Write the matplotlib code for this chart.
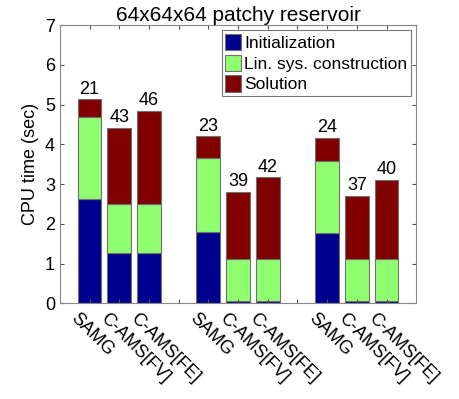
import numpy as np
import matplotlib
matplotlib.use("Agg")
import matplotlib.pyplot as plt

plt.rcParams['font.family'] = ['Liberation Sans', 'DejaVu Sans']

# bar slots 1..11, slots 4 and 8 are empty gaps
labels = ['SAMG', 'C-AMS[FV]', 'C-AMS[FE]', '',
          'SAMG', 'C-AMS[FV]', 'C-AMS[FE]', '',
          'SAMG', 'C-AMS[FV]', 'C-AMS[FE]']
init = [2.63, 1.27, 1.27, 0, 1.80, 0.06, 0.06, 0, 1.77, 0.06, 0.06]
linsys = [2.05, 1.22, 1.22, 0, 1.86, 1.05, 1.05, 0, 1.82, 1.05, 1.05]
solution = [0.45, 1.93, 2.35, 0, 0.54, 1.69, 2.06, 0, 0.57, 1.60, 1.99]
iters = [21, 43, 46, None, 23, 39, 42, None, 24, 37, 40]

fig, ax = plt.subplots(figsize=(4.6, 3.99), dpi=100)
fig.subplots_adjust(left=0.13, right=0.905, top=0.937, bottom=0.24)

x = np.arange(1, len(labels) + 1)
init = np.array(init)
linsys = np.array(linsys)
solution = np.array(solution)
mask = np.array([it is not None for it in iters])

kw = dict(width=0.8, edgecolor='#707070', linewidth=0.8)
ax.bar(x[mask], init[mask], color='#00008f', label='Initialization', **kw)
ax.bar(x[mask], linsys[mask], bottom=init[mask], color='#8fff70',
       label='Lin. sys. construction', **kw)
ax.bar(x[mask], solution[mask], bottom=(init + linsys)[mask], color='#800000',
       label='Solution', **kw)

tops = init + linsys + solution
for xi, top, it in zip(x, tops, iters):
    if it is None:
        continue
    ax.text(xi, top + 0.04, str(it), ha='center', va='bottom', fontsize=13)

ax.set_xlim(0, 12)
ax.set_ylim(0, 7)
ax.set_xticks(x)
ax.set_xticklabels([])
# rotated labels, anchored a bit left of each bar centre
for xi, lab in zip(x, labels):
    ax.annotate(lab, xy=(xi, 0), xycoords=('data', 'axes fraction'),
                xytext=(-7, -5), textcoords='offset points',
                rotation=-45, rotation_mode='anchor', ha='left', va='top',
                fontsize=13)
ax.set_yticks(range(0, 8))
ax.tick_params(axis='y', labelsize=13)
ax.tick_params(direction='in', top=True, right=True, length=3, color='#555555')
for s in ax.spines.values():
    s.set_color('#888888')
ax.set_ylabel('CPU time (sec)', fontsize=13)
ax.set_title('64x64x64 patchy reservoir', fontsize=15, pad=3)

leg = ax.legend(loc='upper right', fontsize=12.5, handlelength=0.9,
                handleheight=1.1, handletextpad=0.2, borderpad=0.2,
                labelspacing=0.2, fancybox=False, borderaxespad=0.3,
                edgecolor='#555555')
leg.get_frame().set_linewidth(0.8)

fig.savefig('out.png', dpi=100)
